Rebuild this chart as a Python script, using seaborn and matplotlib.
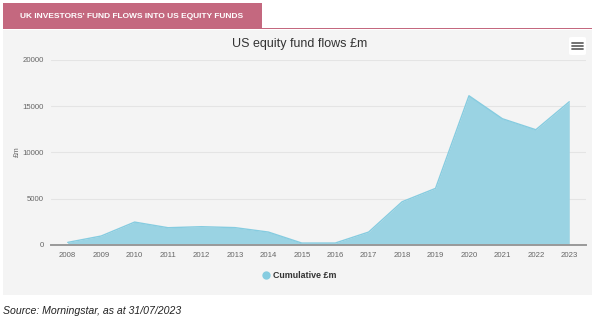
import matplotlib
matplotlib.use("Agg")
import matplotlib.pyplot as plt
import numpy as np
import pandas as pd
import seaborn as sns
from matplotlib.patches import Rectangle, FancyBboxPatch
from matplotlib.lines import Line2D

years = ['2008', '2009', '2010', '2011', '2012', '2013', '2014', '2015',
         '2016', '2017', '2018', '2019', '2020', '2021', '2022', '2023']
cumulative = [250, 940, 2450, 1840, 1950, 1850, 1370, 180,
              180, 1370, 4650, 6100, 16130, 13640, 12450, 15480]
y_ticks = [0, 5000, 10000, 15000, 20000]

header_text = "UK INVESTORS' FUND FLOWS INTO US EQUITY FUNDS"
chart_title = "US equity fund flows £m"
series_name = "Cumulative £m"
y_label = "£m"
source_text = "Source: Morningstar, as at 31/07/2023"

sns.set_theme(style="white")
plt.rcParams['font.family'] = ['Liberation Sans', 'DejaVu Sans']

W, H = 600, 323
fig = plt.figure(figsize=(6, 3.23), dpi=100)
fig.patch.set_facecolor('white')

def fx(px):
    return px / W

def fy(py):
    return 1 - py / H

# panel background
fig.patches.append(Rectangle((fx(3), fy(295)), fx(589), (295 - 30) / H,
                             transform=fig.transFigure, facecolor='#f4f4f4',
                             edgecolor='none', zorder=-10))
# pink header bar and rule
pink = '#c4687f'
fig.patches.append(Rectangle((fx(3), fy(28)), fx(259), 25 / H,
                             transform=fig.transFigure, facecolor=pink,
                             edgecolor='none', zorder=-9))
fig.patches.append(Rectangle((fx(3), fy(29)), fx(589), 1.2 / H,
                             transform=fig.transFigure, facecolor=pink,
                             edgecolor='none', zorder=-9))
fig.text(fx(132), fy(16), header_text, color='white', fontsize=6.0,
         fontweight='bold', ha='center', va='center')

# hamburger menu icon
fig.patches.append(FancyBboxPatch((fx(569), fy(55)), fx(17), 18 / H,
                                  boxstyle='round,pad=0,rounding_size=0.004',
                                  transform=fig.transFigure, facecolor='white',
                                  edgecolor='none', zorder=-8))
for yy in (42.5, 45.5, 48.5):
    fig.lines.append(Line2D([fx(572), fx(583)], [fy(yy), fy(yy)],
                            transform=fig.transFigure, color='#666666',
                            linewidth=1.3, zorder=3))

# main axes
ax = fig.add_axes([fx(51), fy(244.7), fx(535), (244.7 - 60) / H])
ax.set_zorder(1)
ax.set_facecolor('none')
x = np.arange(len(years))
df = pd.DataFrame({'x': x, 'value': cumulative})
ax.fill_between(df['x'], df['value'], 0, color='#9ad3e3', linewidth=0, zorder=2)
sns.lineplot(data=df, x='x', y='value', ax=ax, color='#86cce0', linewidth=1.0,
             zorder=3)

ax.set_xlim(-0.5, len(years) - 0.5)
ax.set_ylim(0, 20000)
ax.set_yticks(y_ticks)
ax.set_yticklabels([str(t) for t in y_ticks])
ax.set_xticks(x)
ax.set_xticklabels(years)
ax.tick_params(axis='both', length=0, labelsize=5.6, colors='#666666')
ax.tick_params(axis='x', pad=5)
ax.tick_params(axis='y', pad=5)
for yt in y_ticks[1:]:
    ax.axhline(yt, color='#e4e4e4', linewidth=0.8, zorder=1)
for s in ['top', 'right', 'left']:
    ax.spines[s].set_visible(False)
ax.spines['bottom'].set_color('#999999')
ax.spines['bottom'].set_linewidth(1.4)
ax.spines['bottom'].set_zorder(4)
ax.set_xlabel('')
ax.set_ylabel('')
fig.text(fx(17), fy(152), y_label, rotation=90, fontsize=5.6, color='#666666',
         ha='center', va='center')

fig.text(fx(300), fy(44), chart_title, fontsize=9, color='#333333',
         ha='center', va='center')

# legend
handle = Line2D([], [], marker='o', linestyle='none', markersize=6,
                markerfacecolor='#86cce0', markeredgecolor='none')
leg = fig.legend([handle], [series_name], loc='center',
                 bbox_to_anchor=(fx(299), fy(276)), frameon=False,
                 handletextpad=0.3, handlelength=1.0,
                 prop={'size': 6.4, 'weight': 'bold'})
for t in leg.get_texts():
    t.set_color('#333333')

fig.text(fx(3), fy(311), source_text, fontsize=7.6, style='italic',
         color='#222222', ha='left', va='center')

fig.savefig('out.png', dpi=100, facecolor='white')
